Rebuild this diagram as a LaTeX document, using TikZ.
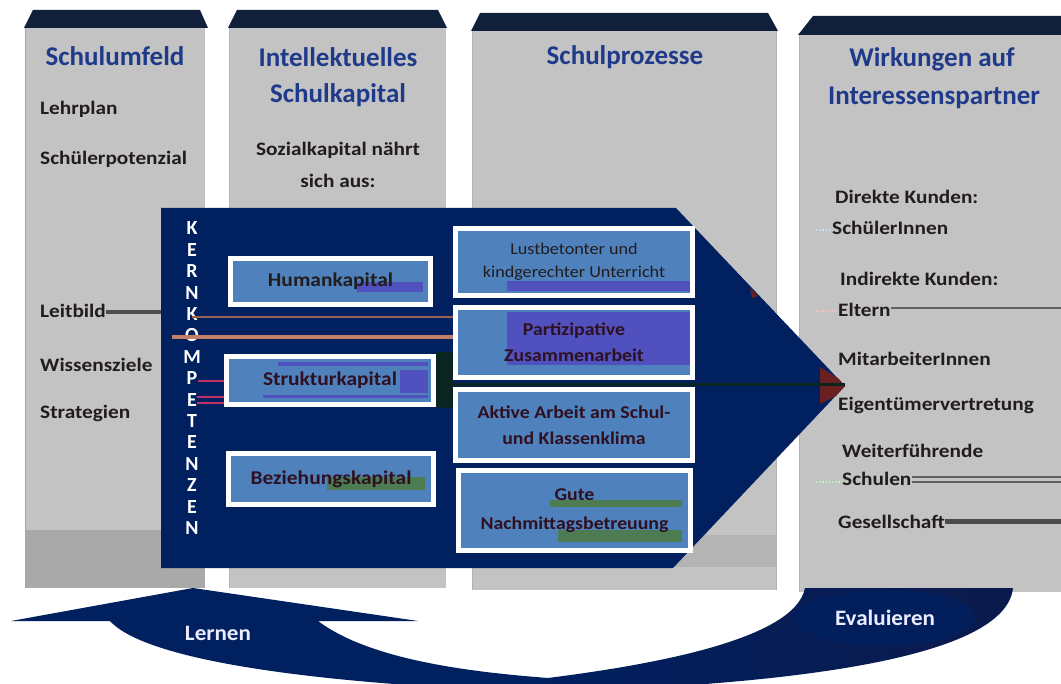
\documentclass[tikz,border=0pt]{standalone}
\usepackage{fontspec}
\setmainfont{Carlito}
\definecolor{colgray}{HTML}{C3C3C3}
\definecolor{colgrayd}{HTML}{A9A9A9}
\definecolor{colgraym}{HTML}{B4B4B4}
\definecolor{band}{HTML}{10203A}
\definecolor{navy}{HTML}{002060}
\definecolor{navyd}{HTML}{0B1A4C}
\definecolor{boxblue}{HTML}{4F81BD}
\definecolor{titleblue}{HTML}{1F3A8A}
\definecolor{txt}{HTML}{221C1C}
\definecolor{maroon}{HTML}{2E1020}
\definecolor{purp}{HTML}{5050BE}
\definecolor{grn}{HTML}{4E7C52}
\definecolor{salmon}{HTML}{C2806A}
\definecolor{brownl}{HTML}{9A6050}
\definecolor{magl}{HTML}{C2306A}
\definecolor{darkline}{HTML}{0A2422}
\definecolor{darkred}{HTML}{6A2020}
\begin{document}
\begin{tikzpicture}[x=1pt,y=-1pt,
  coltitle/.style={font=\fontsize{27}{32}\selectfont\bfseries, text=titleblue, align=center, inner sep=0pt},
  coltext/.style={font=\fontsize{19}{22}\selectfont\bfseries, text=txt, anchor=west, inner sep=0pt, xscale=1.12},
  kbox/.style={draw=white, line width=5pt, fill=boxblue, inner sep=0pt},
  ltext/.style={font=\fontsize{19.5}{23}\selectfont\bfseries, align=center, xscale=1.1},
  rtext/.style={font=\fontsize{18}{26}\selectfont\bfseries, align=center, text=maroon, xscale=1.1},
  letter/.style={font=\fontsize{20}{22}\selectfont\bfseries, text=white, inner sep=0pt},
  patch/.style={line width=0pt}
]
\useasboundingbox (0,0) rectangle (1061,684);
\fill[white] (0,0) rectangle (1061,684);

% ---- columns ----
\fill[colgray] (25,28) rectangle (205,588);
\fill[colgrayd] (25,530) rectangle (205,588);
\draw[gray!70, line width=1pt] (25,28) -- (25,588);
\fill[band] (33,10) -- (200,10) -- (208,28) -- (24,28) -- cycle;

\fill[colgray] (229,28) rectangle (446,588);
\draw[gray!60, line width=1pt] (229,28) -- (229,588);
\fill[band] (237,10) -- (438,10) -- (447,28) -- (228,28) -- cycle;

\fill[colgray] (472,31) rectangle (776,590);
\fill[colgraym] (472,535) rectangle (776,567);
\draw[gray!60, line width=1pt] (472,31) -- (472,590) (776,31) -- (776,590);
\fill[band] (480,13) -- (768,13) -- (778,31) -- (471,31) -- cycle;

\fill[colgray] (799,35) rectangle (1061,592);
\draw[gray!60, line width=1pt] (799,35) -- (799,592);
\fill[band] (813,16) -- (1061,16) -- (1061,35) -- (798,35) -- cycle;

% ---- column texts ----
\node[coltitle] (t1) at (115,56) {Schulumfeld};
\node[coltext] (lehrplan) at (40,109) {Lehrplan};
\node[coltext] (schuelerpot) at (40,159) {Schülerpotenzial};
\node[coltext] (leitbild) at (40,311) {Leitbild};
\node[coltext] (wissen) at (40,365) {Wissensziele};
\node[coltext] (strat) at (40,413) {Strategien};

\node[coltitle] (t2a) at (338,57) {Intellektuelles};
\node[coltitle] (t2b) at (338,95) {Schulkapital};
\node[coltext, anchor=center] (soz1) at (338,150) {Sozialkapital nährt};
\node[coltext, anchor=center] (soz2) at (338,181) {sich aus:};

\node[coltitle] (t3) at (625,57) {Schulprozesse};

\node[coltitle] (t4a) at (932,59) {Wirkungen auf};
\node[coltitle] (t4b) at (934,98) {Interessenspartner};

\node[coltext] (dk) at (835,197) {Direkte Kunden:};
\node[coltext] (sch) at (832,228) {SchülerInnen};
\node[coltext] (ik) at (840,279) {Indirekte Kunden:};
\node[coltext] (elt) at (838,310) {Eltern};
\node[coltext] (mit) at (838,359) {MitarbeiterInnen};
\node[coltext] (eig) at (838,405) {Eigentümervertretung};
\node[coltext] (wf) at (842,451) {Weiterführende};
\node[coltext] (schu) at (842,479) {Schulen};
\node[coltext] (ges) at (838,522) {Gesellschaft};

% right column lines
\coordinate (rEnd1) at (1061,308);
\coordinate (rEnd2) at (1061,477);
\coordinate (rEnd3) at (1061,482);
\coordinate (rEnd4) at (1061,522);
\draw[gray!75!black, line width=1.5pt] (elt.east |- rEnd1) -- (rEnd1);
\draw[gray!75!black, line width=1.5pt] (schu.east |- rEnd2) -- (rEnd2);
\draw[gray!75!black, line width=1.5pt] (schu.east |- rEnd3) -- (rEnd3);
\draw[gray!60!black, line width=5pt] (ges.east |- rEnd4) -- (rEnd4);
\draw[cyan!25, dotted, line width=1.2pt] (816,230) -- (sch.west |- 0,230);
\draw[pink, dotted, line width=1.2pt] (816,311) -- (elt.west |- 0,311);
\draw[green!30, dotted, line width=1.2pt] (816,482) -- (schu.west |- 0,482);

% Leitbild line
\coordinate (lbEnd) at (161,312);
\draw[gray!60!black, line width=4pt] (leitbild.east |- lbEnd) -- (lbEnd);

% ---- central arrow ----
\fill[navy] (161,208) -- (676,208) -- (845,386) -- (673,568) -- (161,568) -- cycle;
\fill[darkred] (820,367) -- (838,378) -- (845,386) -- (836,396) -- (820,404) -- cycle;
\fill[darkred] (750,288) -- (758,296) -- (752,298) -- cycle;
\fill[darkline] (436,352) rectangle (453,408);
\draw[darkline, line width=3pt] (436,385) -- (845,385);

\foreach \l [count=\i from 0] in {K,E,R,N,K,O,M,P,E,T,E,N,Z,E,N}
  \node[letter] (kl\i) at (192,{228.5+\i*21.4}) {\l};

% lines inside
\coordinate (brS) at (192,317);
\coordinate (saS) at (172,337);
\draw[brownl, line width=2pt] (brS) -- (453,317);
\draw[salmon, line width=4.5pt] (saS) -- (453,337);

% left boxes
\node[kbox, minimum width=200pt, minimum height=46pt] (human) at (330.5,281.5) {};
\node[kbox, minimum width=207pt, minimum height=48pt] (struk) at (330,380.5) {};
\node[kbox, minimum width=205pt, minimum height=51pt] (bez) at (331,479) {};

% right boxes
\node[kbox, line width=4.5pt, minimum width=237pt, minimum height=67pt] (lust) at (574,262) {};
\node[kbox, line width=4.5pt, minimum width=237pt, minimum height=70pt] (part) at (574,342.5) {};
\node[kbox, line width=4.5pt, minimum width=237pt, minimum height=71pt] (akt) at (574,425) {};
\node[kbox, line width=4.5pt, minimum width=232pt, minimum height=80pt] (gute) at (574.5,510.5) {};

% magenta connectors
\draw[magl, line width=2.5pt] (kl7.east |- 0,381) -- (struk.west |- 0,381);
\draw[magl, line width=2pt] (kl8.east |- 0,397) -- (struk.west |- 0,397);
\draw[magl, line width=2pt] (kl8.east |- 0,403) -- (struk.west |- 0,403);

% colour patches
\fill[purp] (357,282) rectangle (423,292);
\fill[purp] (278,362) rectangle (428,366);
\fill[purp] (400,370) rectangle (428,393);
\fill[purp] (263,395) rectangle (428,398);
\fill[grn] (327,477) rectangle (425,490);
\fill[purp] (507,281) rectangle (690,291);
\fill[purp] (507,312) rectangle (690,365);
\fill[grn] (550,500) rectangle (682,507);
\fill[grn] (558,530) rectangle (682,542);

% box texts
\node[ltext, text=txt] (humanT) at (human.center) {Humankapital};
\node[ltext, text=maroon] (strukT) at (struk.center) {Strukturkapital};
\node[ltext, text=maroon] (bezT) at (bez.center) {Beziehungskapital};
\node[font=\fontsize{16.5}{23}\selectfont, align=center, text=txt, xscale=1.1] (lustT) at (lust.center) {Lustbetonter und\\kindgerechter Unterricht};
\node[rtext] (partT) at (part.center) {Partizipative\\Zusammenarbeit};
\node[rtext] (aktT) at (akt.center) {Aktive Arbeit am Schul-\\und Klassenklima};
\node[rtext, font=\fontsize{18}{29}\selectfont\bfseries] (guteT) at (gute.center) {Gute\\Nachmittagsbetreuung};

% ---- bottom cycle arrow ----
\def\cyclepath{(11,621) -- (193,588) -- (418,621) -- (318,621)
  .. controls (370,660) and (470,672) .. (548,678)
  .. controls (650,665) and (795,640) .. (805,588)
  -- (1013,588)
  .. controls (1005,665) and (750,686) .. (548,692)
  .. controls (350,686) and (150,665) .. (110,621) -- cycle}
\begin{scope}
\clip (0,0) rectangle (1061,684);
\shade[left color=navy, right color=navyd, middle color=navy] \cyclepath;
\begin{scope}
\clip \cyclepath;
\fill[navy, opacity=0.8] (885,618) ellipse (90pt and 28pt);
\end{scope}
\end{scope}
\node[font=\fontsize{22}{26}\selectfont\bfseries, text=white!92!blue, xscale=1.05] (lernen) at (218,633) {Lernen};
\node[font=\fontsize{22}{26}\selectfont\bfseries, text=white!92!blue, xscale=1.05] (eval) at (885,618) {Evaluieren};
\end{tikzpicture}
\end{document}
